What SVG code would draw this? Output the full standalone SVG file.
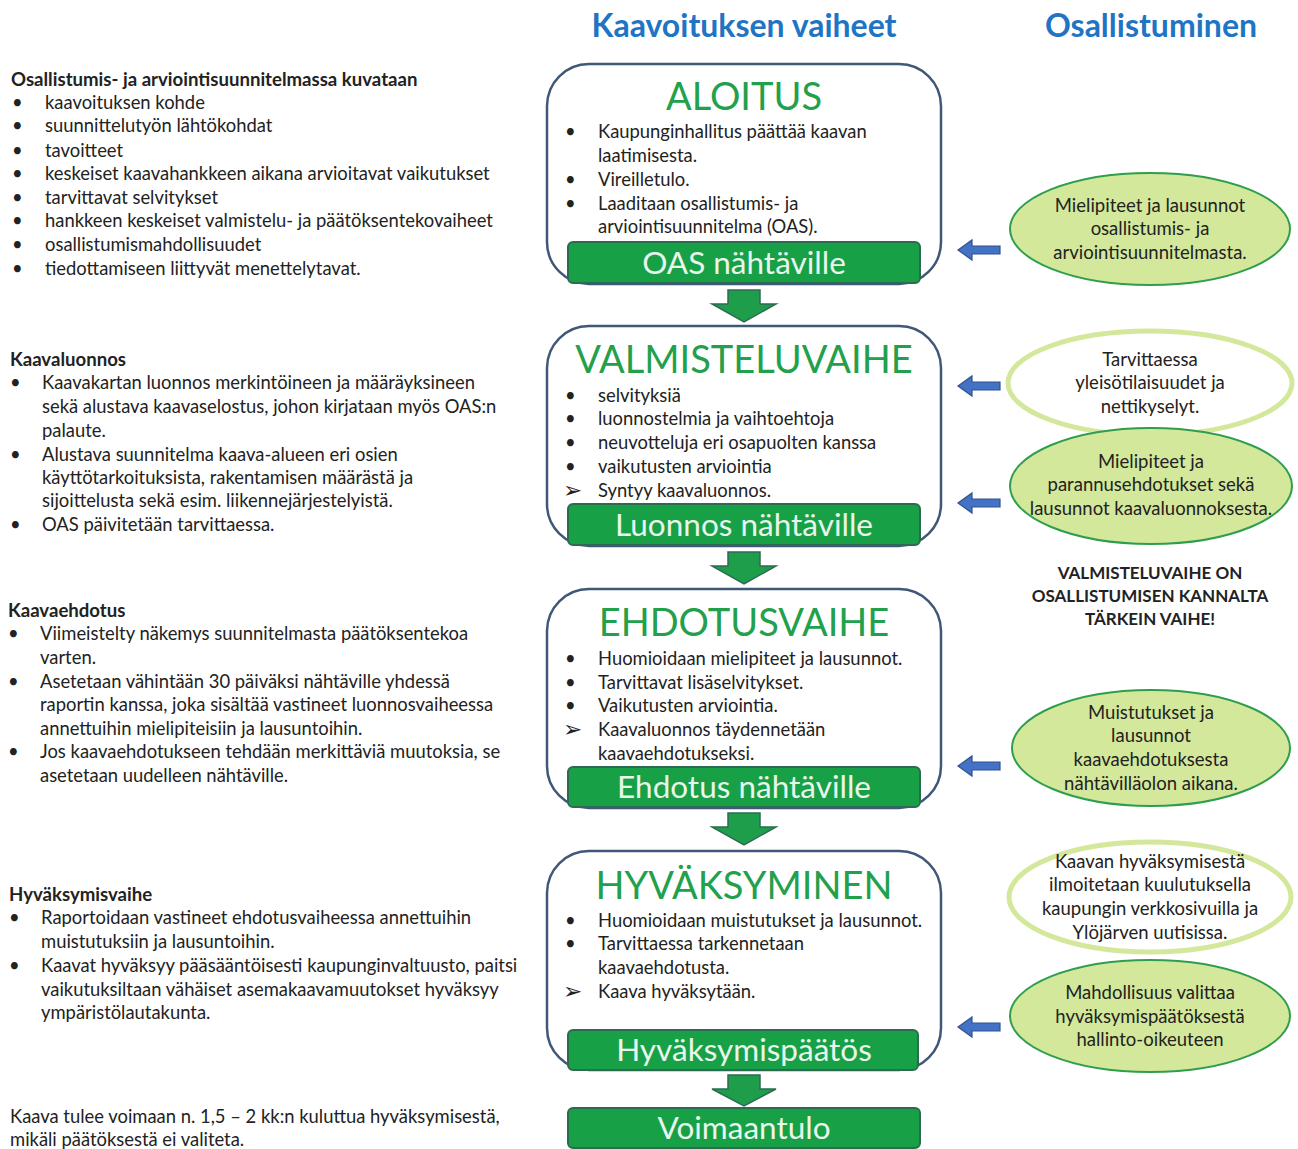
<svg xmlns="http://www.w3.org/2000/svg" width="1298" height="1149" viewBox="0 0 1298 1149">
<defs>
<style>
text{font-family:Lato,"Open Sans","Liberation Sans",sans-serif;fill:#222;}
.t{font-size:18.4px;}
.h{font-size:18.6px;font-weight:bold;}
.hdr{font-size:32px;font-weight:bold;fill:#1F74C4;text-anchor:middle;}
.ttl{font-size:38px;fill:#22A04B;text-anchor:middle;}
.bar{fill:#18A047;stroke:#2D6A52;stroke-width:2;}
.bt{font-size:31.5px;fill:#E8F6EC;text-anchor:middle;}
.box{fill:#fff;stroke:#3F5877;stroke-width:2.5;}
.ef{fill:#D3E89A;stroke:#2E9E4E;stroke-width:2;}
.ew{fill:#fff;stroke:#D3E89A;stroke-width:5;}
.et{font-size:18.5px;text-anchor:middle;}
.nt{font-size:17px;font-weight:bold;text-anchor:middle;}
.dn{fill:#1E9E4A;stroke:#2C6B54;stroke-width:1.5;}
.la{fill:#4472C4;stroke:#2F528F;stroke-width:1.2;}
.ar{font-family:"DejaVu Sans",sans-serif;font-size:23px;}
</style>
</defs>

<g id="headers">
<text class="hdr" x="744" y="37">Kaavoituksen vaiheet</text>
<text class="hdr" x="1151" y="37">Osallistuminen</text>
</g>

<g id="left-oas">
<text class="h" x="11" y="86">Osallistumis- ja arviointisuunnitelmassa kuvataan</text>
<text class="t" x="12" y="109">•</text><text class="t" x="45" y="109">kaavoituksen kohde</text>
<text class="t" x="12" y="132">•</text><text class="t" x="45" y="132">suunnittelutyön lähtökohdat</text>
<text class="t" x="12" y="157">•</text><text class="t" x="45" y="157">tavoitteet</text>
<text class="t" x="12" y="180">•</text><text class="t" x="45" y="180">keskeiset kaavahankkeen aikana arvioitavat vaikutukset</text>
<text class="t" x="12" y="204">•</text><text class="t" x="45" y="204">tarvittavat selvitykset</text>
<text class="t" x="12" y="227">•</text><text class="t" x="45" y="227">hankkeen keskeiset valmistelu- ja päätöksentekovaiheet</text>
<text class="t" x="12" y="251">•</text><text class="t" x="45" y="251">osallistumismahdollisuudet</text>
<text class="t" x="12" y="275">•</text><text class="t" x="45" y="275">tiedottamiseen liittyvät menettelytavat.</text>
</g>

<g id="left-luonnos">
<text class="h" x="10" y="366">Kaavaluonnos</text>
<text class="t" x="10" y="389">•</text><text class="t" x="42" y="389">Kaavakartan luonnos merkintöineen ja määräyksineen</text>
<text class="t" x="42" y="413">sekä alustava kaavaselostus, johon kirjataan myös OAS:n</text>
<text class="t" x="42" y="437">palaute.</text>
<text class="t" x="10" y="461">•</text><text class="t" x="42" y="461">Alustava suunnitelma kaava-alueen eri osien</text>
<text class="t" x="42" y="484">käyttötarkoituksista, rakentamisen määrästä ja</text>
<text class="t" x="42" y="507">sijoittelusta sekä esim. liikennejärjestelyistä.</text>
<text class="t" x="10" y="531">•</text><text class="t" x="42" y="531">OAS päivitetään tarvittaessa.</text>
</g>

<g id="left-ehdotus">
<text class="h" x="8" y="617">Kaavaehdotus</text>
<text class="t" x="8" y="640">•</text><text class="t" x="40" y="640">Viimeistelty näkemys suunnitelmasta päätöksentekoa</text>
<text class="t" x="40" y="664">varten.</text>
<text class="t" x="8" y="688">•</text><text class="t" x="40" y="688">Asetetaan vähintään 30 päiväksi nähtäville yhdessä</text>
<text class="t" x="40" y="711">raportin kanssa, joka sisältää vastineet luonnosvaiheessa</text>
<text class="t" x="40" y="735">annettuihin mielipiteisiin ja lausuntoihin.</text>
<text class="t" x="8" y="758">•</text><text class="t" x="40" y="758">Jos kaavaehdotukseen tehdään merkittäviä muutoksia, se</text>
<text class="t" x="40" y="782">asetetaan uudelleen nähtäville.</text>
</g>

<g id="left-hyvaksymis">
<text class="h" x="9" y="901">Hyväksymisvaihe</text>
<text class="t" x="9" y="924">•</text><text class="t" x="41" y="924">Raportoidaan vastineet ehdotusvaiheessa annettuihin</text>
<text class="t" x="41" y="948">muistutuksiin ja lausuntoihin.</text>
<text class="t" x="9" y="972">•</text><text class="t" x="41" y="972">Kaavat hyväksyy pääsääntöisesti kaupunginvaltuusto, paitsi</text>
<text class="t" x="41" y="996">vaikutuksiltaan vähäiset asemakaavamuutokset hyväksyy</text>
<text class="t" x="41" y="1019">ympäristölautakunta.</text>
<text class="t" x="10" y="1123">Kaava tulee voimaan n. 1,5 – 2 kk:n kuluttua hyväksymisestä,</text>
<text class="t" x="10" y="1146">mikäli päätöksestä ei valiteta.</text>
</g>

<g id="aloitus">
<rect class="box" x="547" y="64" width="394" height="220" rx="42"/>
<text class="ttl" x="744" y="110">ALOITUS</text>
<text class="t" x="565" y="138">•</text><text class="t" x="598" y="138">Kaupunginhallitus päättää kaavan</text>
<text class="t" x="598" y="162">laatimisesta.</text>
<text class="t" x="565" y="186">•</text><text class="t" x="598" y="186">Vireilletulo.</text>
<text class="t" x="565" y="210">•</text><text class="t" x="598" y="210">Laaditaan osallistumis- ja</text>
<text class="t" x="598" y="233">arviointisuunnitelma (OAS).</text>
<rect class="bar" x="568" y="242" width="352" height="41" rx="5"/>
<text class="bt" x="744" y="274">OAS nähtäville</text>
</g>

<g id="valmistelu">
<rect class="box" x="547" y="326" width="394" height="220" rx="42"/>
<text class="ttl" x="744" y="373">VALMISTELUVAIHE</text>
<text class="t" x="565" y="402">•</text><text class="t" x="598" y="402">selvityksiä</text>
<text class="t" x="565" y="425">•</text><text class="t" x="598" y="425">luonnostelmia ja vaihtoehtoja</text>
<text class="t" x="565" y="449">•</text><text class="t" x="598" y="449">neuvotteluja eri osapuolten kanssa</text>
<text class="t" x="565" y="473">•</text><text class="t" x="598" y="473">vaikutusten arviointia</text>
<text class="ar" x="563" y="498">➢</text><text class="t" x="598" y="497">Syntyy kaavaluonnos.</text>
<rect class="bar" x="568" y="504" width="352" height="41" rx="5"/>
<text class="bt" x="744" y="536">Luonnos nähtäville</text>
</g>

<g id="ehdotus">
<rect class="box" x="547" y="589" width="394" height="219" rx="42"/>
<text class="ttl" x="744" y="636">EHDOTUSVAIHE</text>
<text class="t" x="565" y="665">•</text><text class="t" x="598" y="665">Huomioidaan mielipiteet ja lausunnot.</text>
<text class="t" x="565" y="689">•</text><text class="t" x="598" y="689">Tarvittavat lisäselvitykset.</text>
<text class="t" x="565" y="712">•</text><text class="t" x="598" y="712">Vaikutusten arviointia.</text>
<text class="ar" x="563" y="737">➢</text><text class="t" x="598" y="736">Kaavaluonnos täydennetään</text>
<text class="t" x="598" y="760">kaavaehdotukseksi.</text>
<rect class="bar" x="568" y="767" width="352" height="40" rx="5"/>
<text class="bt" x="744" y="798">Ehdotus nähtäville</text>
</g>

<g id="hyvaksyminen">
<rect class="box" x="547" y="851" width="394" height="219" rx="42"/>
<text class="ttl" x="744" y="899">HYVÄKSYMINEN</text>
<text class="t" x="565" y="927">•</text><text class="t" x="598" y="927">Huomioidaan muistutukset ja lausunnot.</text>
<text class="t" x="565" y="950">•</text><text class="t" x="598" y="950">Tarvittaessa tarkennetaan</text>
<text class="t" x="598" y="974">kaavaehdotusta.</text>
<text class="ar" x="563" y="999">➢</text><text class="t" x="598" y="998">Kaava hyväksytään.</text>
<rect class="bar" x="568" y="1030" width="350" height="40" rx="5"/>
<text class="bt" x="744" y="1061">Hyväksymispäätös</text>
</g>

<g id="voimaantulo">
<rect class="bar" x="568" y="1108" width="352" height="40" rx="5"/>
<text class="bt" x="744" y="1139">Voimaantulo</text>
</g>

<g id="e1"><ellipse class="ef" cx="1150" cy="229" rx="140" ry="56"/>
<text class="et" x="1150" y="212">Mielipiteet ja lausunnot</text>
<text class="et" x="1150" y="235">osallistumis- ja</text>
<text class="et" x="1150" y="259">arviointisuunnitelmasta.</text></g>

<g id="e2"><ellipse class="ew" cx="1150" cy="383" rx="142" ry="52"/>
<text class="et" x="1150" y="366">Tarvittaessa</text>
<text class="et" x="1150" y="389">yleisötilaisuudet ja</text>
<text class="et" x="1150" y="413">nettikyselyt.</text></g>

<g id="e3"><ellipse class="ef" cx="1151" cy="486" rx="141" ry="58"/>
<text class="et" x="1151" y="468">Mielipiteet ja</text>
<text class="et" x="1151" y="491">parannusehdotukset sekä</text>
<text class="et" x="1151" y="515">lausunnot kaavaluonnoksesta.</text></g>

<g id="note">
<text class="nt" x="1150" y="579">VALMISTELUVAIHE ON</text>
<text class="nt" x="1150" y="602">OSALLISTUMISEN KANNALTA</text>
<text class="nt" x="1150" y="625">TÄRKEIN VAIHE!</text>
</g>

<g id="e4"><ellipse class="ef" cx="1151" cy="748" rx="139" ry="58"/>
<text class="et" x="1151" y="719">Muistutukset ja</text>
<text class="et" x="1151" y="742">lausunnot</text>
<text class="et" x="1151" y="766">kaavaehdotuksesta</text>
<text class="et" x="1151" y="790">nähtävilläolon aikana.</text></g>

<g id="e5"><ellipse class="ew" cx="1150" cy="897" rx="141" ry="55"/>
<text class="et" x="1150" y="868">Kaavan hyväksymisestä</text>
<text class="et" x="1150" y="891">ilmoitetaan kuulutuksella</text>
<text class="et" x="1150" y="915">kaupungin verkkosivuilla ja</text>
<text class="et" x="1150" y="939">Ylöjärven uutisissa.</text></g>

<g id="e6"><ellipse class="ef" cx="1150" cy="1016" rx="140" ry="56"/>
<text class="et" x="1150" y="999">Mahdollisuus valittaa</text>
<text class="et" x="1150" y="1023">hyväksymispäätöksestä</text>
<text class="et" x="1150" y="1046">hallinto-oikeuteen</text></g>

<g id="connectors">
<polygon class="dn" points="728,290 760,290 760,304 776,304 744,322 712,304 728,304"/>
<polygon class="dn" points="728,552 760,552 760,566 776,566 744,584 712,566 728,566"/>
<polygon class="dn" points="728,813 760,813 760,827 776,827 744,845 712,827 728,827"/>
<polygon class="dn" points="728,1075 760,1075 760,1089 776,1089 744,1106 712,1089 728,1089"/>
<polygon class="la" points="958,250 972,240 972,246 1000,246 1000,254 972,254 972,260"/>
<polygon class="la" points="958,386 972,376 972,382 1000,382 1000,390 972,390 972,396"/>
<polygon class="la" points="958,503 972,493 972,499 1000,499 1000,507 972,507 972,513"/>
<polygon class="la" points="958,766 972,756 972,762 1000,762 1000,770 972,770 972,776"/>
<polygon class="la" points="958,1027 972,1017 972,1023 1000,1023 1000,1031 972,1031 972,1037"/>
</g>
</svg>
